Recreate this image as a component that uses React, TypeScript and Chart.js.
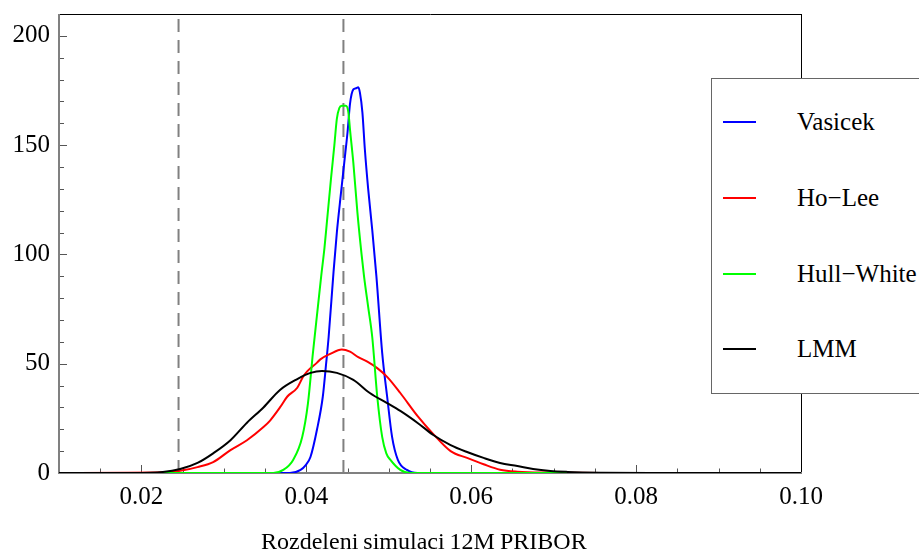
import React, { useEffect, useRef } from "react";
import { Chart, registerables } from "chart.js";

Chart.register(...registerables);

// ---- data ----
const seriesNames = ["Vasicek", "Ho\u2212Lee", "Hull\u2212White", "LMM"];
const seriesColors = ["#0000ff", "#ff0000", "#00ff00", "#000000"];

const vasicekX = [0.01, 0.038, 0.0393, 0.0399, 0.0405, 0.0413, 0.042, 0.0424, 0.0427, 0.0433, 0.0437, 0.0442, 0.0446, 0.045, 0.0453, 0.0457, 0.046, 0.0463, 0.0465, 0.0468, 0.0471, 0.0475, 0.048, 0.0485, 0.0492, 0.0498, 0.0504, 0.0511, 0.0522, 0.0535, 0.1];
const vasicekY = [0, 0, 1.4, 3.5, 7.3, 20, 35, 50, 62, 92, 110, 128, 142, 156, 169, 175.5, 176, 176.5, 174, 165, 148, 130, 111, 90, 55, 35, 16.5, 6, 1.4, 0, 0];

const hoLeeX = [0.01, 0.0226, 0.0247, 0.0268, 0.0287, 0.0308, 0.0328, 0.0348, 0.0356, 0.0368, 0.0377, 0.0389, 0.0396, 0.0401, 0.0413, 0.0417, 0.0429, 0.0443, 0.0453, 0.0463, 0.0474, 0.0486, 0.0498, 0.0514, 0.0535, 0.0554, 0.0575, 0.0595, 0.0615, 0.0635, 0.0656, 0.0696, 0.0757, 0.1];
const hoLeeY = [0, 0.3, 1, 2.7, 5, 10.5, 15, 21, 24, 30, 35, 39, 44, 46.5, 50.5, 52, 54.5, 56.5, 55.5, 53, 51, 48, 44, 36.6, 26, 17.8, 10, 6.9, 4, 1.5, 0.6, 0.2, 0, 0];

const hullWhiteX = [0.01, 0.036, 0.0372, 0.0384, 0.0395, 0.0402, 0.0408, 0.0414, 0.0418, 0.0422, 0.0425, 0.043, 0.0434, 0.0437, 0.044, 0.0443, 0.0448, 0.0451, 0.0453, 0.0457, 0.0462, 0.0467, 0.047, 0.0475, 0.048, 0.0486, 0.0492, 0.0497, 0.0502, 0.0514, 0.0526, 0.1];
const hullWhiteY = [0, 0, 1.4, 6, 16.5, 32, 55, 76, 90, 103, 115, 135, 150, 162, 167, 168, 168, 165, 157, 142, 119, 100, 90, 76, 62, 35, 16.5, 9, 6, 1.4, 0, 0];

const lmmX = [0.01, 0.0186, 0.0226, 0.0247, 0.0268, 0.0287, 0.0308, 0.0328, 0.0348, 0.0368, 0.0389, 0.0405, 0.0419, 0.0437, 0.0457, 0.0477, 0.0498, 0.0514, 0.0535, 0.0554, 0.0575, 0.0595, 0.0615, 0.0635, 0.0656, 0.0675, 0.0696, 0.0717, 0.0757, 0.0817, 0.1];
const lmmY = [0, 0.05, 0.5, 1.8, 4.6, 9, 15, 23, 30, 38, 43, 45.8, 46.7, 45.8, 42.6, 36.6, 32, 28.4, 22.9, 17.4, 12.8, 9.6, 6.9, 4.6, 3.2, 1.8, 0.9, 0.5, 0.15, 0, 0];

const referenceLinesX = [0.0245, 0.0445];

const xRange = [0.01, 0.1];
const yRange = [0, 210];
const xTickValues = [0.02, 0.04, 0.06, 0.08, 0.1];
const xMinorTickValues = [0.015, 0.025, 0.03, 0.035, 0.045, 0.05, 0.055, 0.065, 0.07, 0.075, 0.085, 0.09, 0.095];
const yTickValues = [0, 50, 100, 150, 200];
const yMinorTickValues = [10, 20, 30, 40, 60, 70, 80, 90, 110, 120, 130, 140, 160, 170, 180, 190];
const xAxisTitle = "Rozdeleni simulaci 12M PRIBOR";

// ---- layout ----
const W = 919;
const H = 552;
const FONT = "'Liberation Serif', 'Times New Roman', serif";
const legendRowsY = [122, 198, 274, 349];

const toPoints = (xs: number[], ys: number[]) => xs.map((x, i) => ({ x, y: ys[i] }));

const framePlugin = {
  id: "framePlugin",
  beforeDatasetsDraw(chart: any) {
    const { ctx, chartArea: a, scales } = chart;
    const sx = scales.x;
    const sy = scales.y;
    ctx.save();
    const line = (x1: number, y1: number, x2: number, y2: number) => {
      ctx.beginPath();
      ctx.moveTo(x1, y1);
      ctx.lineTo(x2, y2);
      ctx.stroke();
    };
    ctx.strokeStyle = "#555";
    ctx.lineWidth = 1;
    xTickValues.forEach((v) => {
      const p = Math.round(sx.getPixelForValue(v)) + 0.5;
      line(p, a.bottom, p, a.bottom - 8);
    });
    xMinorTickValues.forEach((v) => {
      const p = Math.round(sx.getPixelForValue(v)) + 0.5;
      line(p, a.bottom, p, a.bottom - 4.5);
    });
    yTickValues.forEach((v) => {
      const p = Math.round(sy.getPixelForValue(v)) + 0.5;
      line(a.left, p, a.left + 8, p);
    });
    yMinorTickValues.forEach((v) => {
      const p = Math.round(sy.getPixelForValue(v)) + 0.5;
      line(a.left, p, a.left + 5, p);
    });
    ctx.strokeStyle = "#000";
    ctx.lineWidth = 1;
    line(a.left, a.top + 0.5, a.right + 1, a.top + 0.5);
    line(a.right + 0.5, a.top, a.right + 0.5, a.bottom);
    ctx.strokeStyle = "#808080";
    ctx.lineWidth = 2;
    line(a.left, a.top, a.left, a.bottom + 1);
    line(a.left, a.bottom, a.right + 1, a.bottom);
    ctx.restore();
  },
};

export default function App() {
  const canvasRef = useRef<HTMLCanvasElement | null>(null);

  useEffect(() => {
    if (!canvasRef.current) return;
    const curves = [
      [vasicekX, vasicekY],
      [hoLeeX, hoLeeY],
      [hullWhiteX, hullWhiteY],
      [lmmX, lmmY],
    ];
    const curveOrder = [3, 2, 1, 0];
    const datasets: any[] = curves.map(([xs, ys], i) => ({
      label: seriesNames[i],
      data: toPoints(xs, ys),
      borderColor: seriesColors[i],
      borderWidth: 2,
      pointRadius: 0,
      fill: false,
      cubicInterpolationMode: "monotone",
      order: curveOrder[i],
    }));
    referenceLinesX.forEach((v) => {
      datasets.push({
        label: "ref",
        data: [
          { x: v, y: yRange[0] },
          { x: v, y: yRange[1] },
        ],
        borderColor: "#808080",
        borderWidth: 2,
        borderDash: [13, 8],
        pointRadius: 0,
        fill: false,
        order: 10,
      });
    });

    const chart = new Chart(canvasRef.current, {
      type: "line",
      data: { datasets },
      plugins: [framePlugin],
      options: {
        animation: false,
        responsive: false,
        devicePixelRatio: 1,
        layout: { padding: { left: 0, top: 14, right: 118, bottom: 0 } },
        plugins: {
          legend: { display: false },
          tooltip: { enabled: false },
        },
        scales: {
          x: {
            type: "linear",
            min: xRange[0],
            max: xRange[1],
            afterFit: (s: any) => {
              s.height = 79;
              s.paddingLeft = 0;
              s.paddingRight = 0;
            },
            afterBuildTicks: (s: any) => {
              s.ticks = xTickValues.map((value) => ({ value }));
            },
            grid: { display: false, drawTicks: false },
            border: { display: false },
            ticks: {
              autoSkip: false,
              maxRotation: 0,
              padding: 9,
              color: "#000",
              font: { family: FONT, size: 25 },
              callback: (v: any) => Number(v).toFixed(2),
            },
          },
          y: {
            type: "linear",
            min: yRange[0],
            max: yRange[1],
            afterFit: (s: any) => {
              s.width = 59;
              s.paddingTop = 0;
              s.paddingBottom = 0;
            },
            afterBuildTicks: (s: any) => {
              s.ticks = yTickValues.map((value) => ({ value }));
            },
            grid: { display: false, drawTicks: false },
            border: { display: false },
            ticks: {
              autoSkip: false,
              padding: 9,
              color: "#000",
              font: { family: FONT, size: 25 },
              callback: (v: any) => String(v),
            },
          },
        },
      },
    });
    return () => chart.destroy();
  }, []);

  return (
    <div
      style={{
        position: "absolute",
        left: 0,
        top: 0,
        width: W,
        height: H,
        overflow: "hidden",
        background: "#fff",
      }}
    >
      <canvas ref={canvasRef} width={W} height={H} style={{ display: "block" }} />
      <div
        style={{
          position: "absolute",
          left: 261,
          top: 529,
          fontFamily: FONT,
          fontSize: 24,
          lineHeight: "24px",
          color: "#000",
          whiteSpace: "nowrap",
          wordSpacing: -1,
        }}
      >
        {xAxisTitle}
      </div>
      <div
        style={{
          position: "absolute",
          left: 711,
          top: 78,
          width: 260,
          height: 316,
          boxSizing: "border-box",
          border: "1px solid #666",
          background: "#fff",
        }}
      >
        {seriesNames.map((name, i) => (
          <React.Fragment key={name}>
            <div
              style={{
                position: "absolute",
                left: 11,
                top: legendRowsY[i] - 79 - 0.75,
                width: 33,
                height: 1.5,
                background: seriesColors[i],
              }}
            />
            <div
              style={{
                position: "absolute",
                left: 85,
                top: legendRowsY[i] - 91.7,
                fontFamily: FONT,
                fontSize: 25,
                lineHeight: "25px",
                color: "#000",
                whiteSpace: "nowrap",
              }}
            >
              {name}
            </div>
          </React.Fragment>
        ))}
      </div>
    </div>
  );
}
